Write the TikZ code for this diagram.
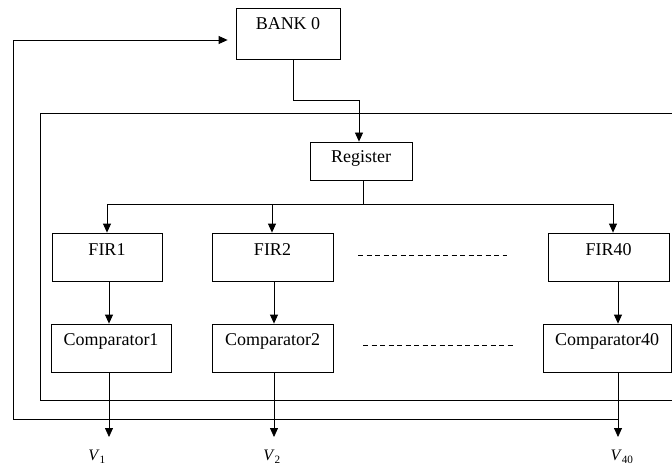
\documentclass[tikz,border=0pt]{standalone}
\usepackage{fontspec}
\setmainfont{Liberation Serif}
\usetikzlibrary{positioning,arrows.meta}

\begin{document}
\begin{tikzpicture}[x=1pt, y=-1pt, line width=0.8pt,
  blk/.style={draw, inner sep=0pt, font=\fontsize{18}{20}\selectfont},
  arr/.style={-{Triangle[length=9pt,width=8pt]}}]
  \useasboundingbox (0,0) rectangle (672,468);
  \node[blk, minimum width=104pt, text height=22pt, text depth=29pt] (bank) at (288,33.5) {BANK 0};
  \node[blk, minimum width=102pt, text height=21pt, text depth=17pt] (reg) at (361,161) {Register};
  \foreach \n/\x/\w in {1/107/110, 2/272.5/121, 40/608.5/121}
    \node[blk, minimum width=\w pt, text height=22pt, text depth=26pt] (fir\n) at (\x,257) {FIR\n};
  \foreach \n/\x/\w in {1/111/120, 2/272.5/121, 40/607/128}
    \node[blk, minimum width=\w pt, text height=21pt, text depth=27pt] (cmp\n) at (\x,348) {Comparator\n};
  \foreach \n/\a/\b/\l in {1/107/109/97, 2/272/274/272, 40/613/618/622}
  {
    \coordinate (bus\n) at (\a,204);
    \coordinate (out\n) at (\b,437);
    \draw[arr] (bus\n) -- (bus\n |- fir\n.north);
    \draw[arr] (out\n |- fir\n.south) -- (out\n |- cmp\n.north);
    \draw[arr] (out\n |- cmp\n.south) -- (out\n);
    \node[font=\fontsize{16}{18}\selectfont] (v\n) at (\l,457) {\textit{V}\textsubscript{\n}};
  }
  \draw (bus1) -- (bus40);
  \draw ([xshift=2pt]reg.south) -- ([xshift=2pt]reg.south |- bus1);
  \draw[arr] ([xshift=5pt]bank.south) -- ++(0,41) -| ([xshift=-2pt]reg.north);
  \coordinate (fb) at (618,419);
  \draw[arr, shorten >=8pt] (fb) -- (13,419) |- ([yshift=-6.5pt]bank.west);
  \draw (673,113) -- (40,113) -- (40,400) -- (673,400);
  \draw[line width=0.6pt, dash pattern=on 5pt off 3.5pt] (358,255) -- (507,255);
  \draw[line width=0.6pt, dash pattern=on 5pt off 3.5pt] (363,345) -- (513,345);
\end{tikzpicture}
\end{document}
